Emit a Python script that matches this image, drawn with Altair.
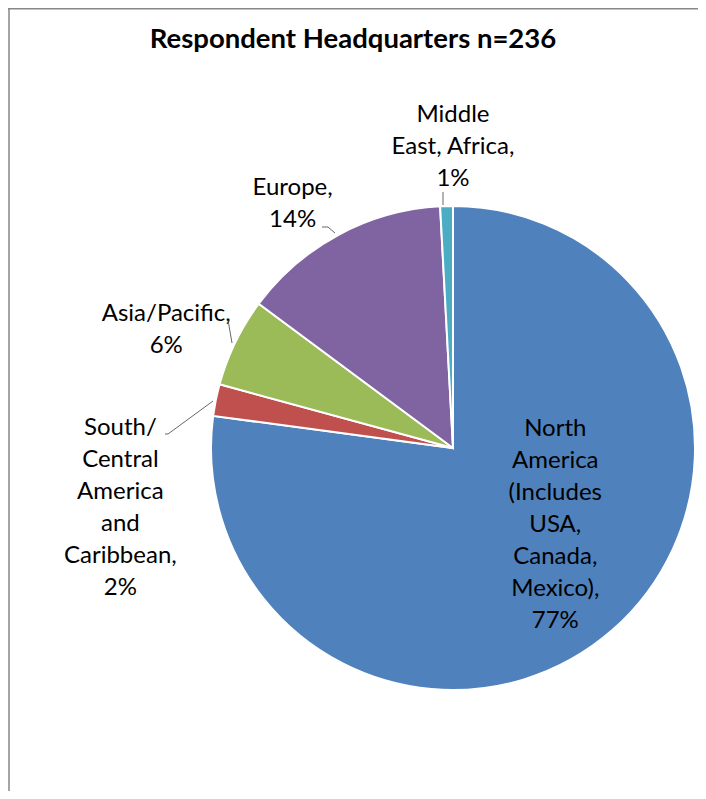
import altair as alt
import pandas as pd

# ---- data ----
regions = [
    "North America (Includes USA, Canada, Mexico)",
    "South/Central America and Caribbean",
    "Asia/Pacific",
    "Europe",
    "Middle East, Africa",
]
counts = [182, 5, 14, 33, 2]
label_text = [
    "North\nAmerica\n(Includes\nUSA,\nCanada,\nMexico),",
    "South/\nCentral\nAmerica\nand\nCaribbean,",
    "Asia/Pacific,",
    "Europe,",
    "Middle\nEast, Africa,",
]
colors = ["#4F81BD", "#C0504D", "#9BBB59", "#8064A2", "#4BACC6"]
title_text = "Respondent Headquarters n=236"

total = sum(counts)
pct = [round(c * 100 / total) for c in counts]
df = pd.DataFrame({
    "region": regions,
    "count": counts,
    "idx": list(range(len(regions))),
    "label": [f"{t}\n{p}%" for t, p in zip(label_text, pct)],
})

# ---- layout (chart pixel space, origin = page (8,8)) ----
W, H = 690, 783
CX, CY, R = 445, 440, 242
FONT = "Lato"
LH = 32
label_pos = {  # region -> (radius, dx, dy of block centre)
    regions[0]: (128, 18, -19),
    regions[1]: (320, -19, 123),
    regions[2]: (310, -8, 18),
    regions[3]: (282, -27, 4),
    regions[4]: (301, 8, 0),
}

color_scale = alt.Scale(domain=regions, range=colors)

base = alt.Chart(df)

pie = base.mark_arc(outerRadius=R, stroke="white", strokeWidth=2).encode(
    theta=alt.Theta("count:Q", stack=True),
    color=alt.Color("region:N", scale=color_scale, legend=None),
    order=alt.Order("idx:Q"),
    x=alt.value(CX),
    y=alt.value(CY),
)

layers = [pie]
for reg, lab in zip(regions, df["label"]):
    rad, dx, dy = label_pos[reg]
    n_lines = lab.count("\n") + 1
    lay = (
        base.transform_window(
            cum="sum(count)", sort=[alt.SortField("idx")], frame=[None, 0]
        )
        .transform_calculate(mid="datum.cum - datum.count / 2")
        .transform_filter(alt.datum.region == reg)
        .mark_text(
            font=FONT, fontSize=24, lineBreak="\n", lineHeight=LH,
            align="center", baseline="middle", color="black",
            radius=rad, dx=dx, dy=dy - (n_lines - 1) * LH / 2,
        )
        .encode(
            theta=alt.Theta("mid:Q", stack=None),
            text="label:N",
            x=alt.value(CX),
            y=alt.value(CY),
        )
    )
    layers.append(lay)

one = pd.DataFrame({"a": [0]})


def seg(x1, y1, x2, y2, color="#404040", w=0.8):
    return alt.Chart(one).mark_rule(color=color, strokeWidth=w).encode(
        x=alt.value(x1), y=alt.value(y1), x2=alt.value(x2), y2=alt.value(y2)
    )


# leader lines
layers += [
    seg(435, 184, 435, 197),
    seg(314, 219, 320, 219), seg(320, 219, 327, 225),
    seg(220, 312, 224, 335),
    seg(157, 426, 160, 426), seg(160, 426, 205, 393),
]
# chart frame (top and left visible)
layers += [
    seg(0, 0.75, W + 30, 0.75, color="#878787", w=1.5),
    seg(1, 0, 1, H + 30, color="#878787", w=1.5),
]

title = alt.Chart(one).mark_text(
    text=title_text, font=FONT, fontSize=27.5, fontWeight="bold",
    align="center", baseline="alphabetic", color="black",
).encode(x=alt.value(345), y=alt.value(40))
layers.append(title)

chart = (
    alt.layer(*layers)
    .properties(width=W, height=H, padding=0, autosize=alt.AutoSizeParams(type="none"))
    .configure_view(stroke="transparent", strokeWidth=0)
)

chart.save("out.html", embed_options={"renderer": "svg", "actions": False})
